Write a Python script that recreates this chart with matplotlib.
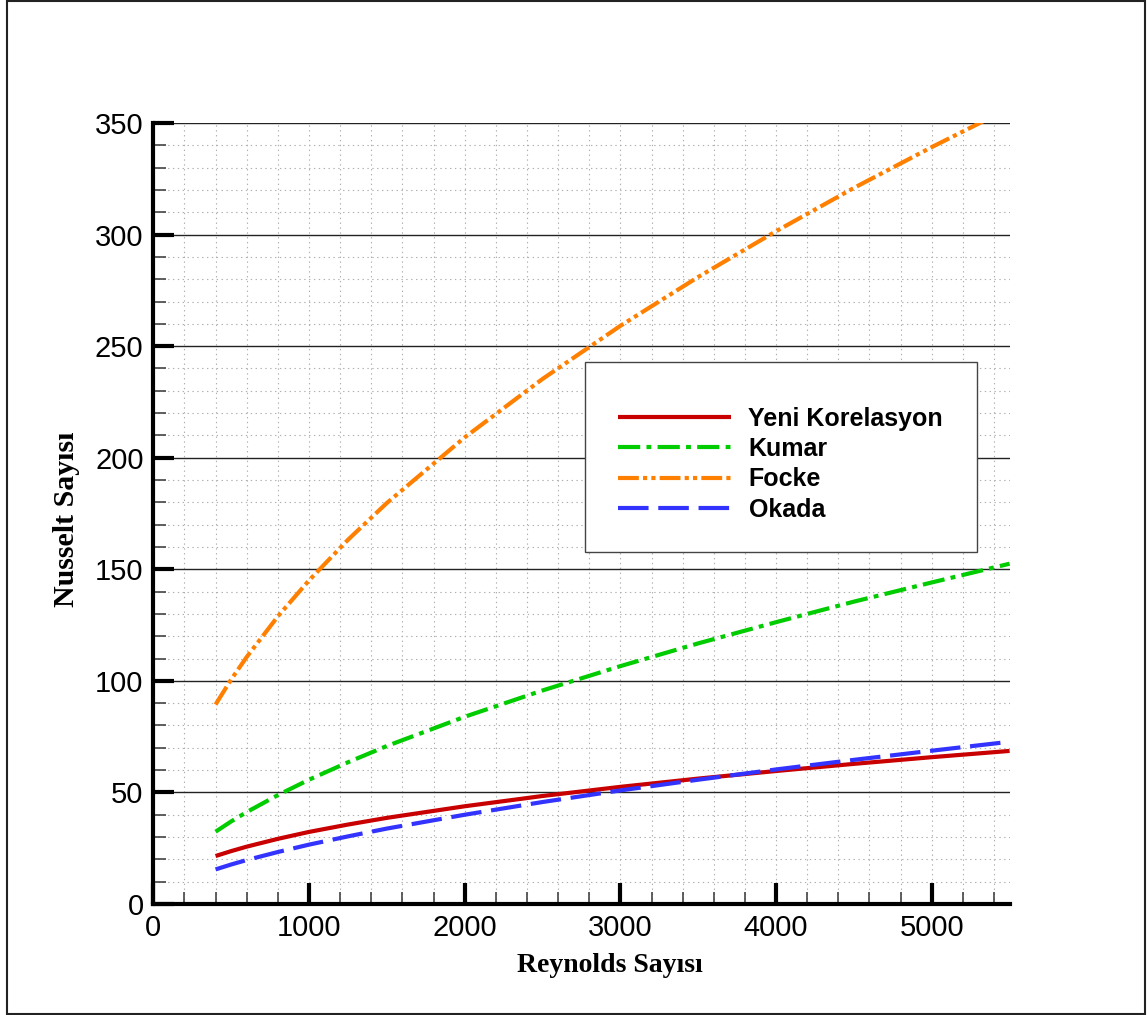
import matplotlib
matplotlib.use("Agg")
import matplotlib.pyplot as plt
from matplotlib.patches import Rectangle
from matplotlib.ticker import MultipleLocator

# ---- data ----
reynolds = [400, 500, 600, 800, 1000, 1250, 1500, 2000, 2500, 3000, 3500, 4000, 4500, 5000, 5500]
yeni_korelasyon = [21.5, 23.7, 25.7, 29.2, 32.3, 35.6, 38.6, 43.8, 48.4, 52.5, 56.2, 59.6, 62.8, 65.8, 68.6]
kumar = [32.4, 37.0, 41.2, 48.8, 55.7, 63.5, 70.8, 83.9, 95.7, 106.6, 116.8, 126.3, 135.5, 144.1, 152.5]
focke = [89.4, 100.6, 110.7, 128.9, 145.0, 163.2, 179.7, 209.1, 235.3, 259.1, 281.0, 301.5, 320.9, 339.2, 356.7]
okada = [15.5, 17.7, 19.7, 23.3, 26.6, 30.3, 33.8, 40.0, 45.7, 50.9, 55.7, 60.3, 64.6, 68.7, 72.7]

series_names = ["Yeni Korelasyon", "Kumar", "Focke", "Okada"]
x_ticks = [0, 1000, 2000, 3000, 4000, 5000]
y_ticks = [0, 50, 100, 150, 200, 250, 300, 350]

plt.rcParams['lines.scale_dashes'] = False

W, H = 1147, 1015
fig = plt.figure(figsize=(W / 100, H / 100), dpi=100)
ax = fig.add_axes([153.3 / W, 1 - 904 / H, (1009.6 - 153.3) / W, (904 - 123) / H])

styles = [
    dict(color='#c80000', ls='-'),
    dict(color='#00cc00', dashes=(16, 4.5, 3.5, 4.5)),
    dict(color='#ff8000', dashes=(15, 3, 3, 3, 3, 3)),
    dict(color='#3333ff', dashes=(22, 7)),
]
data = [yeni_korelasyon, kumar, focke, okada]
for name, vals, st in zip(series_names, data, styles):
    ax.plot(reynolds, vals, lw=3, label=name, zorder=3, solid_capstyle='butt',
            dash_capstyle='butt', **st)

ax.set_xlim(0, 5500)
ax.set_ylim(0, 350)
ax.set_xticks(x_ticks)
ax.set_yticks(y_ticks)
ax.xaxis.set_minor_locator(MultipleLocator(200))
ax.yaxis.set_minor_locator(MultipleLocator(10))

# grid
ax.grid(which='major', axis='y', color='#222222', lw=1.0, zorder=1)
ax.grid(which='minor', axis='y', color='#b0b0b0', lw=0.8, ls=(0, (1, 2.5)), zorder=1)
ax.grid(which='both', axis='x', color='#b0b0b0', lw=0.8, ls=(0, (1, 2.5)), zorder=1)
ax.set_axisbelow(True)

# spines
for s in ['top', 'right']:
    ax.spines[s].set_visible(False)
for s in ['left', 'bottom']:
    ax.spines[s].set_linewidth(3)
    ax.spines[s].set_color('black')

ax.tick_params(which='major', direction='in', length=15, width=3, color='black',
               labelsize=21, pad=7)
ax.tick_params(which='minor', direction='in', length=9, width=1.2, color='#444444')
ax.tick_params(axis='x', which='both', top=False)
ax.tick_params(axis='y', which='both', right=False)
for lab in ax.get_xticklabels() + ax.get_yticklabels():
    lab.set_fontfamily('Liberation Sans')

# legend box + legend
bx0, bx1 = (585 - 153.3) / (1009.6 - 153.3), (977 - 153.3) / (1009.6 - 153.3)
by0, by1 = (904 - 552) / 781, (904 - 362) / 781
ax.add_patch(Rectangle((bx0, by0), bx1 - bx0, by1 - by0, transform=ax.transAxes,
                       facecolor='white', edgecolor='#444444', lw=1.0, zorder=4))
leg = ax.legend(loc='upper left', bbox_to_anchor=((618 - 153.3) / 856.3, (904 - 407) / 781),
                frameon=False, borderpad=0, borderaxespad=0,
                handlelength=4.5, handletextpad=0.72, labelspacing=0.25,
                prop=dict(family='Liberation Sans', weight='bold', size=18))
leg.set_zorder(5)

# axis labels
fig.text(610 / W, 1 - 966 / H, "Reynolds Sayısı", ha='center', va='center',
         fontfamily='Liberation Serif', fontweight='bold', fontsize=20)
fig.text(67 / W, 1 - 519 / H, "Nusselt Sayısı", ha='center', va='center', rotation=90,
         fontfamily='Liberation Serif', fontweight='bold', fontsize=21.5)

# outer frame
fig.patches.append(Rectangle((7 / W, 1 - 1014 / H), (1145 - 7) / W, (1014 - 1) / H,
                             transform=fig.transFigure, fill=False,
                             edgecolor='#222222', lw=1.5))

fig.savefig("out.png", dpi=100)
